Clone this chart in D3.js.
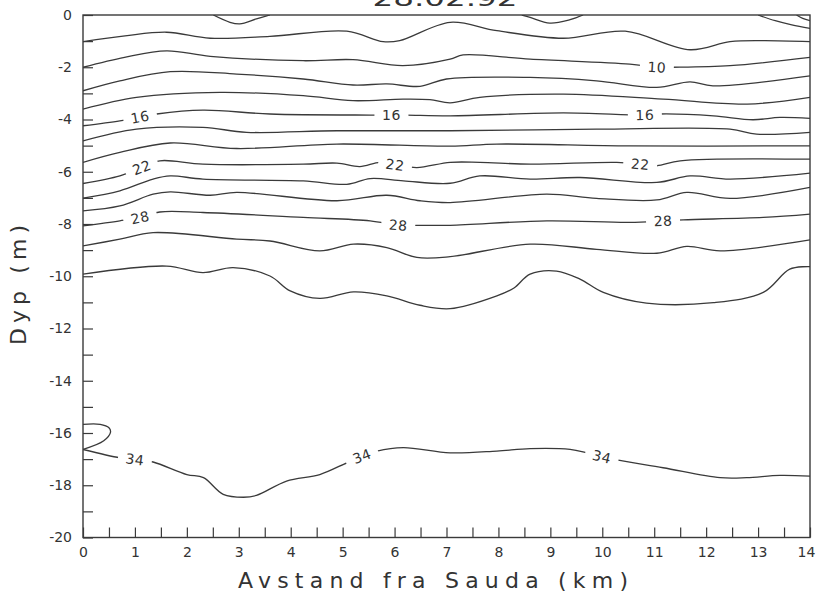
<!DOCTYPE html>
<html>
<head>
<meta charset="utf-8">
<script src="https://cdn.jsdelivr.net/npm/d3@7"></script>
<style>
  html, body { margin: 0; padding: 0; background: #ffffff; }
  svg { display: block; }
  text { font-family: "DejaVu Sans", sans-serif; fill: #333; }
</style>
</head>
<body>
<script>
// ---------- data (distance km, depth m) ----------
const titleText = "28.02.92";
const xTitle = "Avstand fra Sauda (km)";
const yTitle = "Dyp (m)";
const xTickValues = d3.range(0, 14.01, 0.5);
const yTickValues = d3.range(0, -20.01, -1);

const line06a = [[2.51,0],[2.83,-0.28],[3.02,-0.34],[3.34,-0.15],[3.60,0]];
const line06b = [[8.45,0],[8.61,-0.09],[8.99,-0.31],[9.38,-0.18],[9.63,0]];
const line06c = [[13.0,0],[13.33,-0.22],[13.65,-0.38],[14,-0.51]];
const line04c = [[13.74,0],[13.86,-0.13],[14,-0.22]];
const line08 = [[0,-1.02],[0.81,-0.80],[1.61,-0.66],[2.45,-0.89],[3.60,-0.82],[5.08,-0.62],[5.78,-1.02],[6.1,-0.98],[7.07,-0.28],[7.97,-0.60],[9.25,-0.89],[10.44,-0.62],[11.69,-1.33],[12.46,-1.02],[13.10,-0.98],[14,-1.02]];
const line10 = [[0,-2.00],[0.8,-1.62],[1.61,-1.37],[2.45,-1.58],[4.24,-1.75],[5.20,-1.71],[6.16,-1.94],[7.07,-1.69],[7.32,-1.53],[8.61,-1.69],[10.53,-1.88],[11.05,-2.00],[11.36,-2.00],[12.46,-1.94],[14,-1.62]];
const line12 = [[0,-2.90],[0.71,-2.52],[1.68,-2.17],[2.96,-2.26],[4.24,-2.45],[5.20,-2.68],[5.85,-2.64],[6.49,-2.73],[7.00,-2.45],[8.61,-2.39],[9.89,-2.52],[11.05,-2.77],[11.69,-2.56],[12.13,-2.71],[14,-2.33]];
const line14 = [[0,-3.60],[1.03,-3.15],[2.64,-2.96],[4.24,-3.09],[5.20,-3.28],[6.16,-3.22],[6.68,-3.24],[7.07,-3.36],[7.64,-3.15],[9.25,-3.03],[11.17,-3.22],[12.79,-3.41],[14,-3.15]];
const line16 = [[0,-4.24],[0.71,-4.05],[1.10,-3.91],[1.42,-3.79],[2.31,-3.64],[3.60,-3.79],[5.53,-3.83],[5.94,-3.83],[6.23,-3.83],[7.07,-3.86],[9.25,-3.75],[10.82,-3.83],[11.11,-3.79],[12.14,-3.86],[12.90,-4.01],[13.42,-3.92],[14,-3.96]];
const line18 = [[0,-4.82],[1.03,-4.37],[2.31,-4.30],[3.15,-4.49],[4.89,-4.43],[7.07,-4.43],[9.89,-4.37],[12.46,-4.37],[12.97,-4.56],[14,-4.49]];
const line20 = [[0,-5.64],[0.71,-5.26],[1.68,-4.90],[2.96,-5.11],[4.89,-4.94],[7.07,-5.02],[7.97,-4.94],[10.53,-5.01],[14,-5.01]];
const line22 = [[0,-6.45],[0.71,-6.16],[1.13,-5.84],[1.48,-5.58],[2.31,-5.71],[4.24,-5.71],[4.89,-5.67],[5.33,-5.80],[5.72,-5.64],[6.07,-5.75],[6.43,-5.84],[7.07,-5.64],[7.64,-5.64],[8.61,-5.71],[10.28,-5.64],[10.73,-5.71],[11.05,-5.77],[11.50,-5.58],[14,-5.52]];
const line24 = [[0,-7.01],[0.71,-6.73],[1.35,-6.28],[1.68,-6.16],[2.31,-6.28],[4.24,-6.35],[5.08,-6.48],[5.53,-6.26],[6.17,-6.35],[7.07,-6.44],[7.64,-6.16],[8.61,-6.28],[9.57,-6.22],[11.05,-6.41],[11.69,-6.16],[12.46,-6.28],[14,-6.05]];
const line26 = [[0,-7.50],[0.71,-7.31],[1.35,-6.86],[1.68,-6.77],[2.45,-6.90],[2.96,-6.79],[4.89,-7.11],[5.85,-6.90],[6.49,-7.11],[7.07,-7.18],[8.93,-6.86],[9.89,-7.02],[11.05,-7.08],[11.63,-6.79],[12.46,-7.02],[14,-6.60]];
const line28 = [[0,-8.07],[0.71,-7.88],[1.10,-7.75],[1.48,-7.54],[2.31,-7.56],[4.24,-7.75],[5.53,-7.88],[6.07,-8.05],[6.43,-8.05],[7.07,-8.05],[8.93,-7.88],[10.53,-7.94],[11.17,-7.88],[11.56,-7.84],[13.10,-7.75],[14,-7.62]];
const line30 = [[0,-8.84],[0.71,-8.58],[1.35,-8.33],[2.96,-8.58],[3.60,-8.65],[4.56,-9.03],[5.21,-8.77],[5.85,-8.90],[6.43,-9.28],[7.07,-9.25],[8.61,-8.77],[9.89,-8.97],[11.05,-9.12],[11.63,-8.86],[12.27,-9.03],[14,-8.61]];
const line32 = [[0,-9.92],[1.61,-9.61],[2.31,-9.86],[2.89,-9.67],[3.60,-9.99],[3.99,-10.56],[4.56,-10.85],[5.21,-10.60],[5.85,-10.75],[6.49,-11.11],[7.07,-11.24],[7.97,-10.75],[8.30,-10.45],[8.61,-9.92],[9.12,-9.80],[9.57,-10.11],[10.02,-10.62],[10.85,-11.03],[12.14,-11.01],[13.10,-10.62],[13.61,-9.73],[14,-9.63]];
const line34loop = [[0,-15.67],[0.33,-15.67],[0.50,-15.80],[0.53,-15.97],[0.40,-16.30],[0,-16.63]];
const line34 = [[0,-16.63],[0.71,-16.95],[1.00,-17.01],[1.35,-17.11],[2.00,-17.59],[2.32,-17.71],[2.70,-18.35],[3.09,-18.46],[3.34,-18.39],[3.92,-17.84],[4.56,-17.59],[5.08,-17.14],[5.37,-16.89],[5.66,-16.69],[6.17,-16.56],[7.07,-16.76],[7.97,-16.69],[8.61,-16.60],[9.38,-16.63],[9.70,-16.76],[9.99,-16.91],[10.31,-17.04],[11.17,-17.33],[12.27,-17.71],[12.78,-17.71],[13.42,-17.62],[14,-17.65]];

const contourLines = [line06a, line06b, line06c, line04c, line08, line10, line12, line14, line16,
  line18, line20, line22, line24, line26, line28, line30, line32, line34loop, line34];

const labelText = ["10", "16", "16", "16", "22", "22", "22", "28", "28", "28", "34", "34", "34"];
const labelKm    = [11.05, 1.10, 5.94, 10.82, 1.13, 6.01, 10.73, 1.10, 6.07, 11.17, 1.00, 5.37, 9.99];
const labelLine  = [line10, line16, line16, line16, line22, line22, line22, line28, line28, line28, line34, line34, line34];

// ---------- drawing ----------
const W = 816, H = 598;
const svg = d3.select("body").append("svg").attr("width", W).attr("height", H);
const x = d3.scaleLinear().domain([0, 14]).range([83, 810]);
const y = d3.scaleLinear().domain([0, -20]).range([15, 537.5]);

svg.append("defs").append("clipPath").attr("id", "plot")
  .append("rect").attr("x", x(0)).attr("y", y(0))
  .attr("width", x(14) - x(0)).attr("height", y(-20) - y(0));

const lineGen = d3.line().x(d => x(d[0])).y(d => y(d[1])).curve(d3.curveCatmullRom.alpha(0.5));

const g = svg.append("g").attr("clip-path", "url(#plot)");
g.selectAll("path.c").data(contourLines).join("path")
  .attr("class", "c")
  .attr("d", lineGen)
  .attr("fill", "none").attr("stroke", "#3a3a3a").attr("stroke-width", 1.3);

function depthAt(line, km) {
  for (let i = 0; i < line.length - 1; i++) {
    const a = line[i], b = line[i + 1];
    if (km >= a[0] && km <= b[0]) {
      const t = (km - a[0]) / (b[0] - a[0] || 1);
      return a[1] + t * (b[1] - a[1]);
    }
  }
  return line[line.length - 1][1];
}

const lab = svg.append("g");
labelText.forEach((t, i) => {
  const km = labelKm[i], ln = labelLine[i];
  const d = depthAt(ln, km);
  const px = x(km), py = y(d);
  const d1 = depthAt(ln, km - 0.3), d2 = depthAt(ln, km + 0.3);
  const ang = Math.atan2(y(d2) - y(d1), x(km + 0.3) - x(km - 0.3)) * 180 / Math.PI;
  const gg = lab.append("g").attr("transform", `translate(${px},${py}) rotate(${ang})`);
  gg.append("rect").attr("x", -17).attr("y", -7).attr("width", 34).attr("height", 14).attr("fill", "#fff");
  gg.append("text").attr("text-anchor", "middle").attr("dy", "0.36em")
    .attr("font-size", 14).attr("letter-spacing", 0.5).text(t);
});

// frame
svg.append("rect").attr("x", x(0)).attr("y", y(0))
  .attr("width", x(14) - x(0)).attr("height", y(-20) - y(0))
  .attr("fill", "none").attr("stroke", "#3a3a3a").attr("stroke-width", 1.4);

// axes
const yAxis = d3.axisLeft(y).tickValues(yTickValues).tickSize(-10).tickPadding(11)
  .tickFormat(v => (Math.round(v) % 2 === 0 ? d3.format("d")(v).replace("−", "-") : ""));
const ya = svg.append("g").attr("transform", `translate(${x(0)},0)`).call(yAxis);
const xAxis = d3.axisBottom(x).tickValues(xTickValues).tickSize(-10).tickPadding(10)
  .tickFormat(v => (Number.isInteger(v) ? String(v) : ""));
const xa = svg.append("g").attr("transform", `translate(0,${y(-20)})`).call(xAxis);
[ya, xa].forEach(a => {
  a.select(".domain").remove();
  a.selectAll(".tick line").attr("stroke", "#3a3a3a").attr("stroke-width", 1.2);
  a.selectAll(".tick text").attr("font-size", 14).attr("fill", "#333")
    .style("font-family", "DejaVu Sans, sans-serif");
});
xa.selectAll(".tick text").filter(v => v === 14).attr("dx", -4);

// titles
svg.append("text").attr("x", 445).attr("y", 6).attr("text-anchor", "middle")
  .attr("font-size", 22).attr("textLength", 145).attr("lengthAdjust", "spacingAndGlyphs").text(titleText);
svg.append("text").attr("x", 433).attr("y", 588).attr("text-anchor", "middle")
  .attr("font-size", 22).attr("textLength", 390).attr("lengthAdjust", "spacing").text(xTitle);
svg.append("text").attr("transform", "translate(26,285) rotate(-90)").attr("text-anchor", "middle")
  .attr("font-size", 22).attr("textLength", 120).attr("lengthAdjust", "spacing").text(yTitle);
</script>
</body>
</html>
